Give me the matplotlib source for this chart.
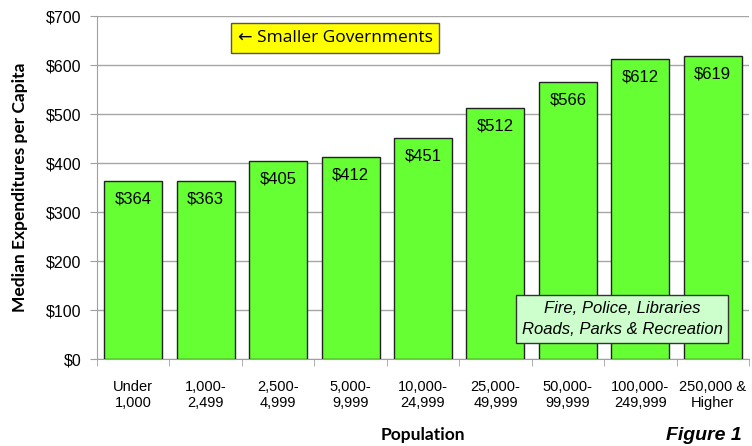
import matplotlib.pyplot as plt
import numpy as np

# Median expenditures per capita by population group
categories = ['Under\n1,000', '1,000-\n2,499', '2,500-\n4,999', '5,000-\n9,999',
              '10,000-\n24,999', '25,000-\n49,999', '50,000-\n99,999',
              '100,000-\n249,999', '250,000 &\nHigher']
values = [364, 363, 405, 412, 451, 512, 566, 612, 619]
y_ticks = [0, 100, 200, 300, 400, 500, 600, 700]

fig = plt.figure(figsize=(7.52, 4.46), dpi=100)
ax = fig.add_axes([0.129, 0.195, 0.867, 0.769])

x = np.arange(len(categories))
bars = ax.bar(x, values, width=0.8, color='#66ff33', edgecolor='#222222',
              linewidth=1.0, zorder=3)

# value labels just inside the top of each bar
for xi, v in zip(x, values):
    ax.annotate(f'${v}', (xi, v), xytext=(0, -13), textcoords='offset points',
                ha='center', va='center', fontsize=12,
                family='Liberation Sans', zorder=4)

ax.set_xlim(-0.5, len(categories) - 0.5)
ax.set_ylim(0, 700)
ax.set_yticks(y_ticks)
ax.set_yticklabels([f'${t}' for t in y_ticks], fontsize=11.5,
                   family='Liberation Sans')
ax.set_xticks(np.arange(len(categories) + 1) - 0.5, minor=True)
ax.set_xticks(x)
ax.set_xticklabels(categories, fontsize=10.5, family='Liberation Sans',
                   linespacing=1.2)
ax.tick_params(axis='x', which='major', length=0, pad=15)
ax.tick_params(axis='x', which='minor', length=5, color='#a0a0a0')
ax.tick_params(axis='y', length=5, color='#a0a0a0', pad=6)

ax.grid(axis='y', color='#a6a6a6', linewidth=1.0, zorder=0)
for side in ['top', 'right']:
    ax.spines[side].set_visible(False)
ax.spines['left'].set_color('#a0a0a0')
ax.spines['bottom'].set_color('#a0a0a0')

ax.set_ylabel('Median Expenditures per Capita', fontsize=12.5,
              fontweight='bold', family='Lato', labelpad=13)
fig.text(423 / 752, 1 - 435 / 446, 'Population', ha='center', va='center',
         fontsize=12.5, fontweight='bold', family='Lato')
fig.text(742 / 752, 1 - 436 / 446, 'Figure 1', ha='right', va='center',
         fontsize=14, fontweight='bold', style='italic',
         family='Liberation Sans')

# annotation boxes
fig.text(335 / 752, 1 - 38 / 446, '\u2190 Smaller Governments', ha='center',
         va='center', fontsize=12.5, family=['Open Sans', 'DejaVu Sans'],
         bbox=dict(boxstyle='square,pad=0.4', facecolor='#ffff00',
                   edgecolor='#555555', linewidth=1.0))
fig.text(622 / 752, 1 - 319 / 446,
         'Fire, Police, Libraries\nRoads, Parks & Recreation', ha='center',
         va='center', fontsize=12, style='italic', family='Liberation Sans',
         linespacing=1.5,
         bbox=dict(boxstyle='square,pad=0.35', facecolor='#ccffcc',
                   edgecolor='#333333', linewidth=1.0))

plt.savefig('out.png', dpi=100)
